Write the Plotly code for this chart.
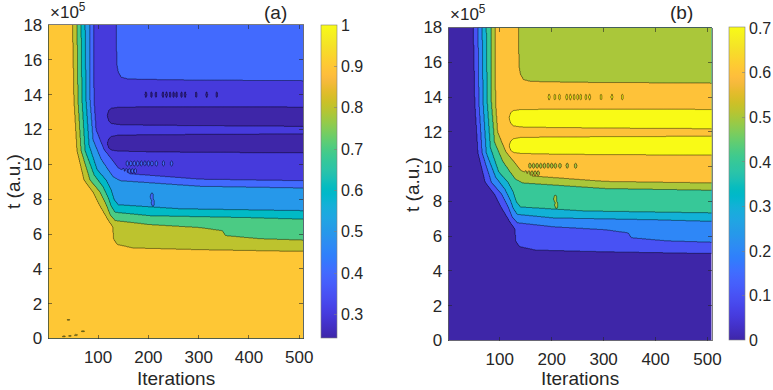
import numpy as np
import plotly.graph_objects as go

# ---------------- data (t in units of 1e5 a.u.) ----------------
x_limits = [1, 508]
t_limits = [0, 18]
x_ticks = [100, 200, 300, 400, 500]
t_ticks = [0, 2, 4, 6, 8, 10, 12, 14, 16, 18]

# nested L-shaped contour boundaries (same geometry in both panels)
b1_iter = [49, 52, 58, 72, 90, 102, 118, 129, 131, 138, 169, 303, 510]
b1_t = [18.3, 13.7, 10.8, 9.1, 8.4, 7.7, 6.9, 6.4, 5.7, 5.4, 5.2, 5.1, 5.0]
b2_iter = [58, 60, 66, 84, 104, 116, 124, 134, 203, 303, 347, 353, 422, 510]
b2_t = [18.3, 13.7, 10.8, 9.1, 8.4, 7.7, 7.1, 6.77, 6.54, 6.37, 6.19, 5.91, 5.73, 5.65]
b3_iter = [66, 68, 74, 92, 110, 120, 126, 134, 203, 402, 510]
b3_t = [18.3, 13.7, 10.8, 9.4, 8.7, 8.1, 7.6, 7.25, 7.05, 6.94, 6.85]
b4_iter = [74, 76, 82, 98, 116, 126, 132, 140, 263, 510]
b4_t = [18.3, 13.7, 11.1, 9.7, 9.1, 8.54, 7.97, 7.68, 7.45, 7.34]
b5_iter = [83, 84, 90, 106, 120, 130, 144, 303, 510]
b5_t = [18.3, 13.7, 11.4, 10.3, 9.69, 9.29, 9.06, 8.74, 8.64]
b6_iter = [91, 92, 96, 112, 128, 140, 163, 303, 510]
b6_t = [18.3, 13.7, 11.98, 10.84, 10.26, 9.8, 9.46, 9.15, 9.06]

# two inner "islands" (lowest band in a / highest band in b)
isl1_iter = [118, 121, 126, 140, 200, 300, 510]
isl1_lo = [11.2, 10.95, 10.82, 10.76, 10.72, 10.69, 10.66]
isl1_hi = [11.2, 11.45, 11.6, 11.68, 11.7, 11.72, 11.75]
isl2_iter = [118, 121, 126, 140, 200, 300, 510]
isl2_lo = [12.8, 12.5, 12.35, 12.28, 12.25, 12.22, 12.18]
isl2_hi = [12.8, 13.1, 13.22, 13.28, 13.3, 13.3, 13.29]

# upper right plateau
top_iter = [136, 137, 140, 146, 160, 250, 510]
top_t = [19, 15.8, 15.3, 15.0, 14.9, 14.85, 14.8]

# small speckles (tiny closed contours)
spk14_iter = [195, 206, 215, 229, 236, 243, 250, 256, 266, 273, 295, 316, 336]
spk14_t = [14.0] * 13
spk10_iter = [158, 165, 172, 179, 186, 193, 200, 207, 216, 230, 246]
spk10_t = [10.05, 10.05, 10.05, 10.05, 10.05, 10.05, 10.05, 10.05, 10.05, 10.05, 10.05]
spk96_iter = [150, 156, 162, 168, 174]
spk96_t = [9.62, 9.62, 9.62, 9.62, 9.62]
spk8_iter = [207, 209]
spk8_t = [8.15, 7.8]
# speckles near the origin, panel (a) only
spk0_iter = [41, 32, 44, 56, 70]
spk0_t = [1.07, 0.12, 0.15, 0.2, 0.42]

# band values, from the lower-left region inward
band_a = [0.95, 0.85, 0.75, 0.65, 0.55, 0.45, 0.35]
island_a = 0.27
top_a = 0.45
band_b = [0.05, 0.15, 0.25, 0.35, 0.45, 0.55, 0.65]
island_b = 0.75
top_b = 0.55

levels_a = [0.3, 0.4, 0.5, 0.6, 0.7, 0.8, 0.9]
levels_b = [0.1, 0.2, 0.3, 0.4, 0.5, 0.6, 0.7]
clim_a = [0.243, 1.0]
clim_b = [0.0, 0.702]
cbar_ticks_a = [0.3, 0.4, 0.5, 0.6, 0.7, 0.8, 0.9, 1.0]
cbar_text_a = ["0.3", "0.4", "0.5", "0.6", "0.7", "0.8", "0.9", "1"]
cbar_ticks_b = [0, 0.1, 0.2, 0.3, 0.4, 0.5, 0.6, 0.7]
cbar_text_b = ["0", "0.1", "0.2", "0.3", "0.4", "0.5", "0.6", "0.7"]

# ---------------- parula colormap (64 rows) ----------------
PARULA = [
    (0.2422, 0.1504, 0.6603), (0.2504, 0.1650, 0.7076), (0.2578, 0.1818, 0.7511),
    (0.2647, 0.1978, 0.7952), (0.2706, 0.2147, 0.8364), (0.2751, 0.2342, 0.8710),
    (0.2783, 0.2559, 0.8991), (0.2803, 0.2782, 0.9221), (0.2813, 0.3006, 0.9414),
    (0.2810, 0.3228, 0.9579), (0.2795, 0.3447, 0.9717), (0.2760, 0.3667, 0.9829),
    (0.2699, 0.3892, 0.9906), (0.2602, 0.4123, 0.9952), (0.2440, 0.4358, 0.9988),
    (0.2206, 0.4603, 0.9973), (0.1963, 0.4847, 0.9892), (0.1834, 0.5074, 0.9798),
    (0.1786, 0.5289, 0.9682), (0.1764, 0.5499, 0.9520), (0.1687, 0.5703, 0.9359),
    (0.1540, 0.5902, 0.9218), (0.1460, 0.6091, 0.9079), (0.1380, 0.6276, 0.8973),
    (0.1248, 0.6459, 0.8883), (0.1113, 0.6635, 0.8763), (0.0952, 0.6798, 0.8598),
    (0.0689, 0.6948, 0.8394), (0.0297, 0.7082, 0.8163), (0.0036, 0.7203, 0.7917),
    (0.0067, 0.7312, 0.7660), (0.0433, 0.7411, 0.7394), (0.0964, 0.7500, 0.7120),
    (0.1408, 0.7584, 0.6842), (0.1717, 0.7670, 0.6554), (0.1938, 0.7758, 0.6251),
    (0.2161, 0.7843, 0.5923), (0.2470, 0.7918, 0.5567), (0.2906, 0.7973, 0.5188),
    (0.3406, 0.8008, 0.4789), (0.3909, 0.8029, 0.4354), (0.4456, 0.8024, 0.3909),
    (0.5044, 0.7993, 0.3480), (0.5616, 0.7942, 0.3045), (0.6174, 0.7876, 0.2612),
    (0.6720, 0.7793, 0.2227), (0.7242, 0.7698, 0.1910), (0.7738, 0.7598, 0.1646),
    (0.8203, 0.7498, 0.1535), (0.8634, 0.7406, 0.1596), (0.9035, 0.7330, 0.1774),
    (0.9393, 0.7288, 0.2100), (0.9728, 0.7298, 0.2394), (0.9956, 0.7434, 0.2371),
    (0.9970, 0.7659, 0.2199), (0.9952, 0.7893, 0.2028), (0.9892, 0.8136, 0.1885),
    (0.9786, 0.8386, 0.1766), (0.9676, 0.8639, 0.1643), (0.9610, 0.8890, 0.1537),
    (0.9597, 0.9135, 0.1423), (0.9628, 0.9373, 0.1265), (0.9691, 0.9606, 0.1064),
    (0.9769, 0.9839, 0.0805),
]
P = np.array(PARULA)
PF = np.linspace(0, 1, len(P))


def parula(f):
    f = min(max(f, 0.0), 1.0)
    r, g, b = (np.interp(f, PF, P[:, i]) for i in range(3))
    return "rgb(%d,%d,%d)" % (round(r * 255), round(g * 255), round(b * 255))


parula_cs = [[float(PF[i]), parula(PF[i])] for i in range(len(P))]


def band_colorscale(levels, clim):
    n = len(levels)
    cs = [[0.0, parula(0.0)]]
    for k, lv in enumerate(levels, start=1):
        cs.append([k / n, parula((lv - clim[0]) / (clim[1] - clim[0]))])
    return cs


# ---------------- build fields from the boundaries ----------------
gx = np.linspace(x_limits[0], x_limits[1], 520)
gt = np.linspace(t_limits[0], t_limits[1], 800)
T = gt[:, None]
XX = gx[None, :]
boundaries = [(b1_iter, b1_t), (b2_iter, b2_t), (b3_iter, b3_t),
              (b4_iter, b4_t), (b5_iter, b5_t), (b6_iter, b6_t)]


def build(band_vals, island_val, top_val, origin_specks):
    n = np.zeros((len(gt), len(gx)), dtype=int)
    for bx, bt in boundaries:
        n += (T > np.interp(gx, bx, bt)[None, :])
    z = np.array(band_vals)[n]
    z = np.where(T > np.interp(gx, top_iter, top_t)[None, :], top_val, z)
    for ix, lo, hi in [(isl1_iter, isl1_lo, isl1_hi), (isl2_iter, isl2_lo, isl2_hi)]:
        lo_c = np.interp(gx, ix, lo)[None, :]
        hi_c = np.interp(gx, ix, hi)[None, :]
        z = np.where((T > lo_c) & (T < hi_c), island_val, z)
    specks = [(spk14_iter, spk14_t, 1.6, 0.16, island_val),
              (spk10_iter, spk10_t, 2.4, 0.14, band_vals[5]),
              (spk96_iter, spk96_t, 2.2, 0.14, band_vals[5]),
              (spk8_iter, spk8_t, 3.0, 0.2, band_vals[5])]
    if origin_specks:
        specks.append((spk0_iter, spk0_t, 3.0, 0.03, band_vals[1]))
    for sx, st, rx, rt, val in specks:
        for cx, ct in zip(sx, st):
            m = ((XX - cx) / rx) ** 2 + ((T - ct) / rt) ** 2 < 1
            z = np.where(m, val, z)
    return z


z_a = build(band_a, island_a, top_a, True)
z_b = build(band_b, island_b, top_b, False)

# ---------------- figure ----------------
W, H = 773, 390
FONT = "Liberation Sans, Arial, sans-serif"
TXT = "#262626"

fig = go.Figure()

panels = [
    dict(z=z_a, levels=levels_a, clim=clim_a, cs=band_colorscale(levels_a, clim_a),
         xa="x", ya="y", cbx=321, cby=25, cbh=312.7, ticks=cbar_ticks_a, text=cbar_text_a),
    dict(z=z_b, levels=levels_b, clim=clim_b, cs=band_colorscale(levels_b, clim_b),
         xa="x2", ya="y2", cbx=729.3, cby=27.3, cbh=312.7, ticks=cbar_ticks_b, text=cbar_text_b),
]

for p in panels:
    fig.add_trace(go.Contour(
        x=gx, y=gt, z=p["z"], xaxis=p["xa"], yaxis=p["ya"],
        autocontour=False,
        contours=dict(start=p["levels"][0], end=p["levels"][-1], size=0.1, coloring="fill"),
        colorscale=p["cs"], showscale=False,
        line=dict(color="black", width=0.5, smoothing=0),
        hoverinfo="skip",
    ))
    fig.add_trace(go.Scatter(
        x=[-1000, -1000], y=[-1000, -1000], xaxis=p["xa"], yaxis=p["ya"],
        mode="markers", hoverinfo="skip", showlegend=False,
        marker=dict(color=p["clim"], cmin=p["clim"][0], cmax=p["clim"][1],
                    colorscale=parula_cs, showscale=True, size=1,
                    colorbar=dict(
                        x=p["cbx"] / W, xanchor="left", y=1 - p["cby"] / H, yanchor="top",
                        len=p["cbh"] / H, lenmode="fraction",
                        thickness=15.5, thicknessmode="pixels",
                        outlinewidth=0.6, outlinecolor="#7f7f7f",
                        ticks="inside", ticklen=3, tickwidth=0.6, tickcolor="#7f7f7f",
                        tickvals=p["ticks"], ticktext=p["text"],
                        tickfont=dict(family=FONT, size=16, color=TXT),
                        xpad=0, ypad=0,
                    )),
    ))

axis_common = dict(
    showgrid=False, zeroline=False, showline=True, linecolor=TXT, linewidth=0.6,
    mirror="allticks", ticks="inside", ticklen=4, tickwidth=0.6, tickcolor=TXT,
    tickfont=dict(family=FONT, size=17, color=TXT), automargin=False,
)

fig.update_layout(
    template="none",
    width=W, height=H, margin=dict(l=0, r=0, t=0, b=0, autoexpand=False),
    paper_bgcolor="white", plot_bgcolor="white", showlegend=False,
    xaxis=dict(axis_common, domain=[48.3 / W, 303.3 / W], range=x_limits,
               tickvals=x_ticks, anchor="y", ticklabelstandoff=3),
    yaxis=dict(axis_common, domain=[1 - 338.5 / H, 1 - 25 / H], range=t_limits,
               tickvals=t_ticks, anchor="x", ticklabelstandoff=2),
    xaxis2=dict(axis_common, domain=[448.3 / W, 711.7 / W], range=x_limits,
                tickvals=x_ticks, anchor="y2", ticklabelstandoff=3),
    yaxis2=dict(axis_common, domain=[1 - 340.5 / H, 1 - 27.5 / H], range=t_limits,
                tickvals=t_ticks, anchor="x2", ticklabelstandoff=2),
)

ann = []
for cx, ylab_x, top in [(175.8, 13, 25), (580, 412.5, 27.5)]:
    ann.append(dict(x=cx / W, y=1 - 378 / H, xref="paper", yref="paper", text="Iterations",
                    showarrow=False, font=dict(family=FONT, size=19, color=TXT),
                    xanchor="center", yanchor="middle"))
    ann.append(dict(x=ylab_x / W, y=1 - (top + 157) / H, xref="paper", yref="paper",
                    text="t (a.u.)", textangle=-90, showarrow=False,
                    font=dict(family=FONT, size=19, color=TXT),
                    xanchor="center", yanchor="middle"))
ann.append(dict(x=275 / W, y=1 - 13 / H, xref="paper", yref="paper", text="(a)",
                showarrow=False, font=dict(family=FONT, size=19, color=TXT),
                xanchor="center", yanchor="middle"))
ann.append(dict(x=681 / W, y=1 - 13 / H, xref="paper", yref="paper", text="(b)",
                showarrow=False, font=dict(family=FONT, size=19, color=TXT),
                xanchor="center", yanchor="middle"))
for lx, ly in [(48, 24), (448, 26)]:
    ann.append(dict(x=lx / W, y=1 - ly / H, xref="paper", yref="paper",
                    text="×10<sup>5</sup>", showarrow=False,
                    font=dict(family=FONT, size=17, color=TXT),
                    xanchor="left", yanchor="bottom"))
fig.update_layout(annotations=ann)

fig.write_html(
    "out.html",
    config={"displayModeBar": False, "staticPlot": True},
    post_script="document.body.style.margin='0';document.body.style.overflow='hidden';",
)
